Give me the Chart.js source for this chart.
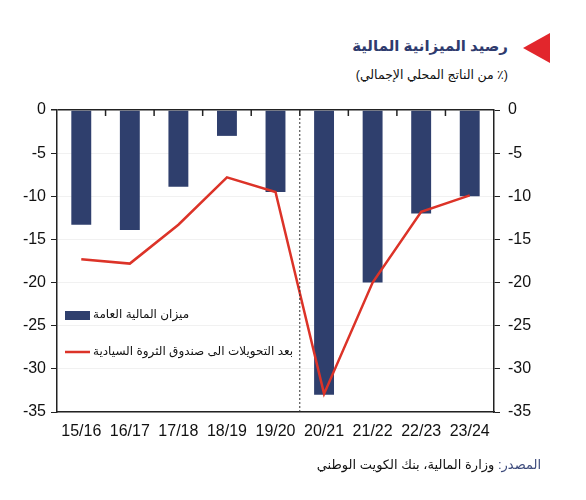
<!DOCTYPE html>
<html>
<head>
<meta charset="utf-8">
<script src="https://cdn.jsdelivr.net/npm/chart.js@4/dist/chart.umd.min.js"></script>
<style>
  body { margin: 0; background: #fff; width: 586px; height: 500px; overflow: hidden; position: relative;
         font-family: "Liberation Sans", "DejaVu Sans", sans-serif; }
  #wrap { position: absolute; left: 0; top: 0; width: 586px; height: 500px; }
  .tri { position: absolute; left: 523px; top: 33px; width: 0; height: 0;
         border-top: 15px solid transparent; border-bottom: 15px solid transparent; border-right: 27px solid #e2262c; }
  .title { position: absolute; right: 78px; top: 37px; font-size: 15px; font-weight: bold; color: #2f3b6e; direction: rtl; white-space: nowrap; }
  .sub { position: absolute; right: 78px; top: 67px; font-size: 12.5px; color: #111; direction: rtl; white-space: nowrap; }
  .src { position: absolute; right: 45px; top: 457px; font-size: 13px; color: #111; direction: rtl; white-space: nowrap; }
  .src span { color: #3d4b7c; }
</style>
</head>
<body>
<div class="tri"></div>
<div class="title">رصيد الميزانية المالية</div>
<div class="sub">(٪ من الناتج المحلي الإجمالي)</div>
<div id="wrap"><canvas id="myChart"></canvas></div>
<div class="src"><span>المصدر:</span> وزارة المالية، بنك الكويت الوطني</div>
<script>
const years = ['15/16', '16/17', '17/18', '18/19', '19/20', '20/21', '21/22', '22/23', '23/24']
const overallBalance = [-13.3, -13.9, -8.9, -3.0, -9.5, -33.0, -20.0, -12.0, -10.0]
const afterFundTransfers = [-17.3, -17.8, -13.3, -7.8, -9.5, -32.9, -20.0, -11.8, -9.9]
const seriesNames = ['ميزان المالية العامة', 'بعد التحويلات الى صندوق الثروة السيادية']
const yMin = -35
const yMax = 0
const yStep = 5
const splitAfter = '19/20'

const navy = '#2f3f6d'
const red = '#dc3328'
const axisColor = '#222'
const tickFont = {family: '"Liberation Sans", Arial, sans-serif', size: 16}

// ticks along the zero line, the dashed split line and the legend inside the plot
const extras = {
    id: 'extras',
    afterDraw(chart) {
        const ctx = chart.ctx
        const area = chart.chartArea
        const x = chart.scales.x
        ctx.save()
        ctx.strokeStyle = axisColor
        ctx.lineWidth = 1.5
        for (let i = 1; i < years.length; i++) {
            const px = (x.getPixelForValue(i - 1) + x.getPixelForValue(i)) / 2
            ctx.beginPath()
            ctx.moveTo(px, area.top)
            ctx.lineTo(px, area.top + 6)
            ctx.stroke()
        }
        const s = years.indexOf(splitAfter)
        const sx = (x.getPixelForValue(s) + x.getPixelForValue(s + 1)) / 2
        ctx.setLineDash([2, 2])
        ctx.lineWidth = 1
        ctx.strokeStyle = '#333'
        ctx.beginPath()
        ctx.moveTo(sx, area.top)
        ctx.lineTo(sx, area.bottom)
        ctx.stroke()
        ctx.setLineDash([])

        ctx.font = '12px "Liberation Sans", "DejaVu Sans", sans-serif'
        ctx.textBaseline = 'middle'
        ctx.textAlign = 'left'
        ctx.fillStyle = navy
        ctx.fillRect(area.left + 8, area.top + 201, 25, 9)
        ctx.fillStyle = '#111'
        ctx.fillText(seriesNames[0], area.left + 36, area.top + 205)
        ctx.strokeStyle = red
        ctx.lineWidth = 2.5
        ctx.beginPath()
        ctx.moveTo(area.left + 8, area.top + 242)
        ctx.lineTo(area.left + 33, area.top + 242)
        ctx.stroke()
        ctx.fillText(seriesNames[1], area.left + 36, area.top + 242)
        ctx.restore()
    }
}

new Chart('myChart', {
    type: 'bar',
    data: {
        labels: years,
        datasets: [{
            type: 'line',
            label: seriesNames[1],
            data: afterFundTransfers,
            borderColor: red,
            backgroundColor: red,
            borderWidth: 2.5,
            pointRadius: 0,
            tension: 0,
            fill: false,
            order: 0,
            yAxisID: 'y'
        }, {
            label: seriesNames[0],
            data: overallBalance,
            backgroundColor: navy,
            categoryPercentage: 1,
            barPercentage: 0.41,
            order: 1,
            yAxisID: 'y'
        }]
    },
    options: {
        responsive: true,
        maintainAspectRatio: false,
        animation: false,
        layout: {padding: {top: 110, bottom: 58, left: 0, right: 0}},
        plugins: {legend: {display: false}, tooltip: {enabled: false}},
        scales: {
            x: {
                grid: {drawOnChartArea: false, drawTicks: false},
                border: {color: axisColor, width: 1.5},
                ticks: {color: '#111', font: tickFont, maxRotation: 0, autoSkip: false, padding: 10},
                afterFit(scale) { scale.height = 30 }
            },
            y: {
                position: 'left',
                min: yMin, max: yMax,
                ticks: {stepSize: yStep, color: '#111', font: tickFont, padding: 5},
                grid: {
                    color: c => c.tick && c.tick.value === 0 ? axisColor : '#f1f1f1',
                    lineWidth: c => c.tick && c.tick.value === 0 ? 1.5 : 1,
                    tickColor: axisColor, tickLength: 6
                },
                border: {color: axisColor, width: 1.5},
                afterFit(scale) { scale.width = 57 }
            },
            y2: {
                position: 'right',
                min: yMin, max: yMax,
                ticks: {stepSize: yStep, color: '#111', font: tickFont, padding: 8},
                grid: {drawOnChartArea: false, tickColor: axisColor, tickLength: 6},
                border: {color: axisColor, width: 1.5},
                afterFit(scale) { scale.width = 92 }
            }
        }
    },
    plugins: [extras]
})
</script>
</body>
</html>
